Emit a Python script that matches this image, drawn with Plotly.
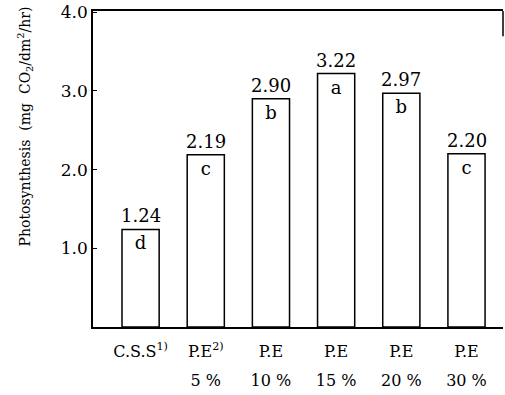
import plotly.graph_objects as go

# Treatments, net photosynthesis and significance groups
treatment_names = ["C.S.S<sup>1)</sup>", "P.E<sup>2)</sup>", "P.E", "P.E", "P.E", "P.E"]
treatment_levels = ["", "5 %", "10 %", "15 %", "20 %", "30 %"]
photosynthesis = [1.24, 2.19, 2.90, 3.22, 2.97, 2.20]
groups = ["d", "c", "b", "a", "b", "c"]
y_ticks = [1.0, 2.0, 3.0, 4.0]
y_tick_labels = ["1.0", "2.0", "3.0", "4.0"]

FONT = "'DejaVu Serif', 'Liberation Serif', 'Times New Roman', serif"
positions = list(range(len(photosynthesis)))

fig = go.Figure()
fig.add_trace(go.Bar(
    x=positions,
    y=photosynthesis,
    width=0.57,
    marker=dict(color="white", line=dict(color="black", width=1.5)),
    text=groups,
    textposition="inside",
    insidetextanchor="end",
    textangle=0,
    textfont=dict(family=FONT, size=18, color="black"),
    hoverinfo="skip",
))

# value labels above each bar
for xi, v in zip(positions, photosynthesis):
    fig.add_annotation(
        x=xi, y=v, xref="x", yref="y",
        text=f"{v:.2f}", showarrow=False,
        yanchor="bottom", yshift=1,
        font=dict(family=FONT, size=18, color="black"),
    )

# y-axis title
fig.add_annotation(
    x=-0.195, y=0.635, xref="paper", yref="paper",
    text="Photosynthesis\u00a0\u00a0(mg\u00a0\u00a0CO<sub>2</sub>/dm<sup>2</sup>/hr)",
    textangle=-90, showarrow=False,
    font=dict(family=FONT, size=14, color="black"),
)

# short stub at the right end of the top frame line
fig.add_shape(type="line", xref="paper", yref="paper",
              x0=1, x1=1, y0=1, y1=0.92,
              line=dict(color="black", width=1.5))

x_range = [-0.73, 5.56]
fig.update_layout(
    width=505, height=395,
    margin=dict(l=93, r=2, t=9, b=68),
    paper_bgcolor="white", plot_bgcolor="white",
    showlegend=False,
    font=dict(family=FONT, size=17, color="black"),
    xaxis=dict(
        range=x_range,
        tickvals=positions, ticktext=treatment_names,
        showline=True, linecolor="black", linewidth=1.5, mirror=True,
        ticks="", showgrid=False, zeroline=False,
        ticklabelstandoff=9,
        tickfont=dict(family=FONT, size=16, color="black"),
    ),
    # second row of category labels (concentration)
    xaxis2=dict(
        range=x_range, overlaying="x", anchor="y", side="bottom",
        tickvals=positions, ticktext=treatment_levels,
        showline=False, ticks="", showgrid=False, zeroline=False,
        ticklabelstandoff=42,
        tickfont=dict(family=FONT, size=16, color="black"),
    ),
    yaxis=dict(
        range=[0, 4.015],
        tickvals=y_ticks, ticktext=y_tick_labels,
        showline=True, linecolor="black", linewidth=1.5,
        ticks="inside", ticklen=4, tickcolor="black",
        showgrid=False, zeroline=False,
        tickfont=dict(family=FONT, size=17, color="black"),
    ),
)

# invisible carrier so the second label row is drawn
fig.add_trace(go.Scatter(x=[positions[0]], y=[0], xaxis="x2", yaxis="y",
                         mode="markers", marker=dict(opacity=0),
                         hoverinfo="skip", showlegend=False))

fig.write_html("out.html")
